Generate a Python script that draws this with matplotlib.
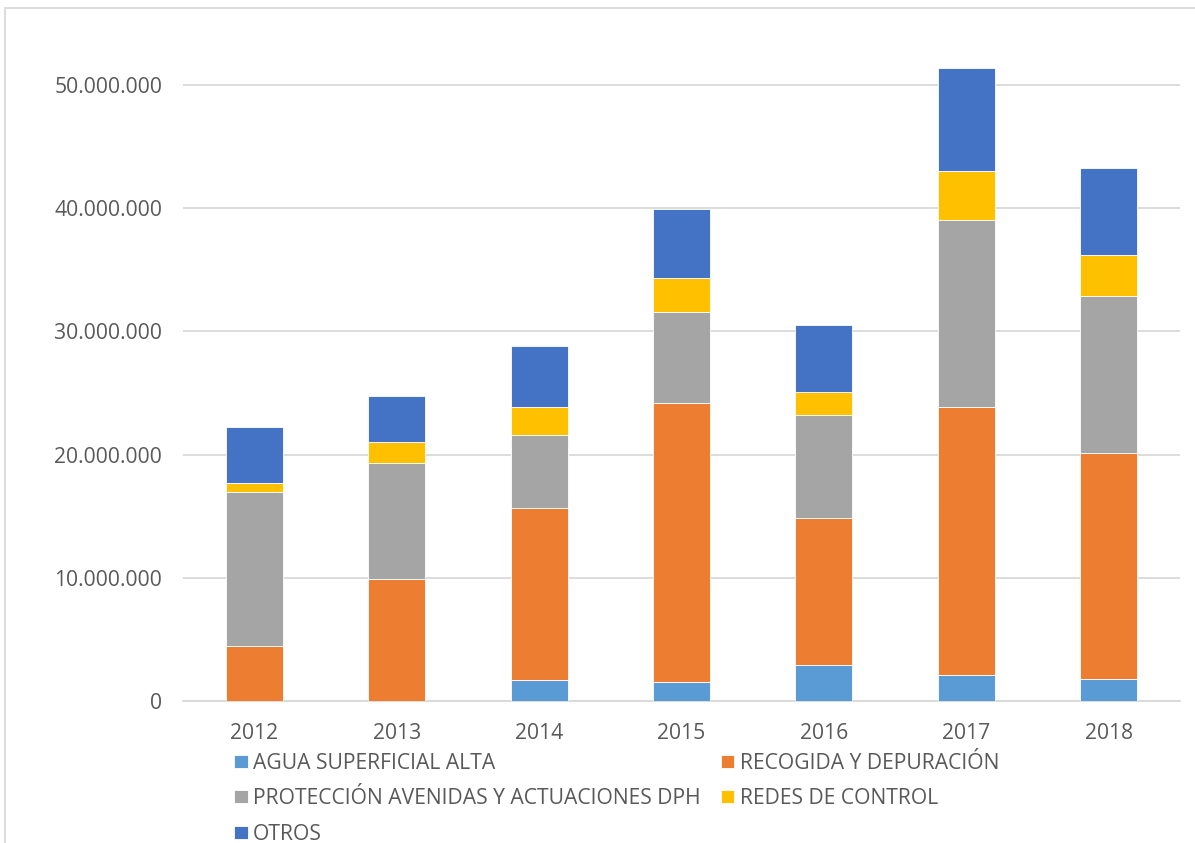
import numpy as np
import matplotlib.pyplot as plt
from matplotlib.patches import Rectangle

plt.rcParams['font.family'] = ['Open Sans', 'DejaVu Sans']

# values in millions of euros
years = ['2012', '2013', '2014', '2015', '2016', '2017', '2018']
agua = [0.0, 0.0, 1.68, 1.54, 2.94, 2.12, 1.78]
recogida = [4.44, 9.87, 13.96, 22.67, 11.90, 21.75, 18.36]
proteccion = [12.52, 9.48, 5.95, 7.39, 8.35, 15.15, 12.76]
redes = [0.76, 1.70, 2.30, 2.70, 1.88, 3.97, 3.32]
otros = [4.50, 3.71, 4.90, 5.61, 5.44, 8.40, 7.08]

series = [
    ('AGUA SUPERFICIAL ALTA', agua, '#5B9BD5'),
    ('RECOGIDA Y DEPURACIÓN', recogida, '#ED7D31'),
    ('PROTECCIÓN AVENIDAS Y ACTUACIONES DPH', proteccion, '#A5A5A5'),
    ('REDES DE CONTROL', redes, '#FFC000'),
    ('OTROS', otros, '#4472C4'),
]

W, H = 1195, 843
fs = 15.2
fig = plt.figure(figsize=(W / 100, H / 100), dpi=100)
ax = fig.add_axes([183 / W, 1 - 701 / H, (1180 - 183) / W, (701 - 23.4) / H])

x = np.arange(len(years))
bottom = np.zeros(len(years))
handles = {}
for name, vals, col in series:
    v = np.array(vals) * 1e6
    b = ax.bar(x, v, 0.4, bottom=bottom, color=col, edgecolor='white',
               linewidth=0.6, label=name, zorder=3)
    handles[name] = b
    bottom += v

ax.set_xlim(-0.5, len(years) - 0.5)
ax.set_ylim(0, 55e6)
ticks = np.arange(0, 50e6 + 1, 10e6)
ax.set_yticks(ticks)
ax.set_yticklabels(['0' if t == 0 else f'{int(t):,}'.replace(',', '.') for t in ticks])
ax.set_xticks(x)
ax.set_xticklabels(years)
ax.grid(axis='y', color='#D9D9D9', linewidth=1.3, zorder=0)
for s in ['top', 'right', 'left']:
    ax.spines[s].set_visible(False)
ax.spines['bottom'].set_color('#D9D9D9')
ax.spines['bottom'].set_linewidth(1.3)
ax.tick_params(length=0, labelsize=fs, colors='#595959')
ax.tick_params(axis='y', pad=15)
ax.tick_params(axis='x', pad=16)

# legend: rows AGUA/RECOGIDA, PROTECCIÓN/REDES, OTROS
order = ['AGUA SUPERFICIAL ALTA', 'PROTECCIÓN AVENIDAS Y ACTUACIONES DPH', 'OTROS',
         'RECOGIDA Y DEPURACIÓN', 'REDES DE CONTROL']
leg = fig.legend([handles[n] for n in order], order, ncol=2, loc='upper left',
                 bbox_to_anchor=(234 / W, 1 - 753 / H), frameon=False,
                 fontsize=fs, handlelength=0.65, handleheight=0.56,
                 handletextpad=0.25, columnspacing=0.95, labelspacing=0.68,
                 borderaxespad=0, borderpad=0)
for t in leg.get_texts():
    t.set_color('#595959')

# chart area border
fig.patches.append(Rectangle((5 / W, -0.1), 1.2, 1 - 8 / H + 0.1, transform=fig.transFigure,
                             fill=False, edgecolor='#D9D9D9', linewidth=1.3))

fig.savefig('out.png', dpi=100)
